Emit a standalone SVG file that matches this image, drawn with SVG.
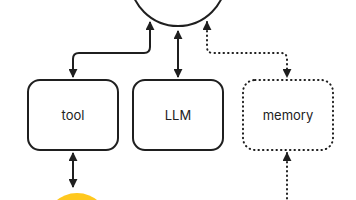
<svg xmlns="http://www.w3.org/2000/svg" width="356" height="200" viewBox="0 0 356 200">
<style>
.node{fill:#fff;stroke:#1f1f1f;stroke-width:2}
.dot{stroke-dasharray:0.5 4;stroke-linecap:round}
.lbl{font-family:Inter,"Noto Sans",sans-serif;font-size:13px;fill:#222;text-anchor:middle;dominant-baseline:central}
.c{fill:none;stroke:#1f1f1f;stroke-width:2}
</style>
<defs>
<marker id="ah" viewBox="0 0 10 10" refX="9" refY="5" markerWidth="4.5" markerHeight="4.5" orient="auto-start-reverse" markerUnits="strokeWidth">
<path d="M0,0 L10,5 L0,10 z" fill="#1f1f1f"/>
</marker>
</defs>
<rect width="356" height="200" fill="#fff"/>
<g id="agent"><circle class="node" cx="178" cy="-22" r="48"/></g>
<g id="tool"><rect class="node" x="28" y="80" width="90" height="70" rx="12"/><text class="lbl" x="73" y="115">tool</text></g>
<g id="llm"><rect class="node" x="133" y="80" width="90" height="70" rx="12"/><text class="lbl" x="178" y="115">LLM</text></g>
<g id="memory"><rect class="node dot" x="243" y="80" width="90" height="70" rx="12"/><text class="lbl" x="288" y="115">memory</text></g>
<g id="env"><circle cx="77" cy="225" r="32" fill="#FFC81E"/></g>
<g id="connectors">
<path class="c" d="M150,22 V47 Q150,53 144,53 H79 Q73,53 73,59 V77" marker-start="url(#ah)" marker-end="url(#ah)"/>
<path class="c" d="M178,31 V77" marker-start="url(#ah)" marker-end="url(#ah)"/>
<path class="c dot" d="M207,22 V47 Q207,53 213,53 H281 Q287,53 287,59 V77" marker-start="url(#ah)" marker-end="url(#ah)"/>
<path class="c" d="M73,153 V187" marker-start="url(#ah)" marker-end="url(#ah)"/>
<path class="c dot" d="M287,153 V200" marker-start="url(#ah)"/>
</g>
</svg>
